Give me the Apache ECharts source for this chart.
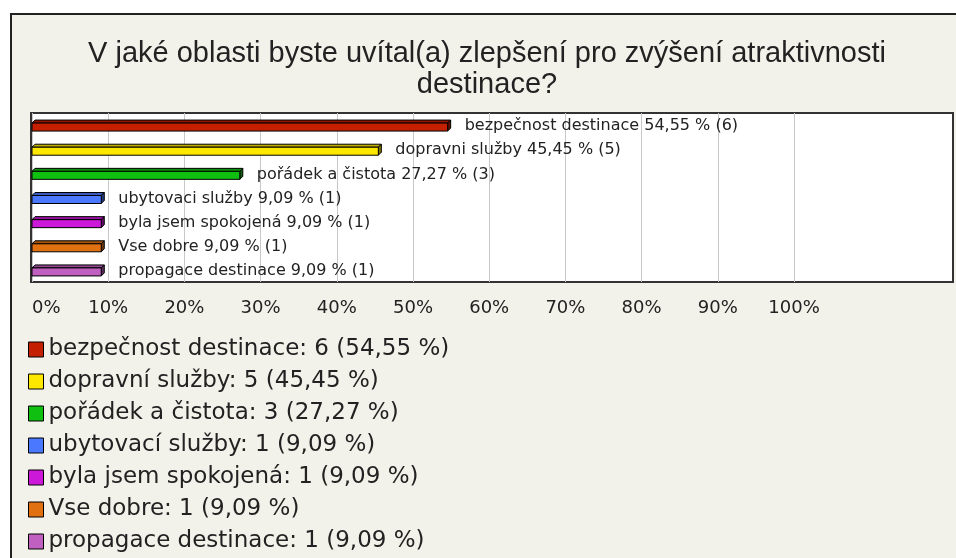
<!DOCTYPE html>
<html>
<head>
<meta charset="utf-8">
<script src="https://cdn.jsdelivr.net/npm/echarts@6/dist/echarts.min.js"></script>
<style>
  html, body { margin: 0; padding: 0; background: #fff; overflow: hidden; }
  #chart {
    position: absolute; left: 10px; top: 13px;
    width: 950px; height: 550px;
    border: 2px solid #222; background: #f3f2ea;
  }
</style>
</head>
<body>
<div id="chart"></div>
<script>
// data
var names = ['bezpečnost destinace', 'dopravní služby', 'pořádek a čistota', 'ubytovací služby',
             'byla jsem spokojená', 'Vse dobre', 'propagace destinace'];
var barNames = ['bezpečnost destinace', 'dopravni služby', 'pořádek a čistota', 'ubytovaci služby',
                'byla jsem spokojená', 'Vse dobre', 'propagace destinace'];
var counts = [6, 5, 3, 1, 1, 1, 1];
var percents = [54.55, 45.45, 27.27, 9.09, 9.09, 9.09, 9.09];
var colors = ['#c42000', '#ffe800', '#10c010', '#4a78ff', '#cc18d8', '#e07010', '#c060c0'];
var ticks = [0, 10, 20, 30, 40, 50, 60, 70, 80, 90, 100];

var FONT = 'DejaVu Sans';

function fmt(v) {
  return v.toFixed(2).replace('.', ',');
}

function darken(hex, k) {
  var n = parseInt(hex.slice(1), 16);
  var r = Math.round(((n >> 16) & 255) * k);
  var g = Math.round(((n >> 8) & 255) * k);
  var b = Math.round((n & 255) * k);
  return 'rgb(' + r + ',' + g + ',' + b + ')';
}

// 3d looking bar with a label behind it
function renderBar(params, api) {
  var i = api.value(1);
  var start = api.coord([0, i]);
  var end = api.coord([api.value(0), i]);
  var x0 = start[0], x1 = end[0], c = start[1];
  var h = 8, d = 3;
  var y0 = c - 2;
  var col = colors[i];
  return {
    type: 'group',
    children: [
      {
        type: 'polygon',
        shape: { points: [[x0, y0], [x0 + d, y0 - d], [x1 + d, y0 - d], [x1, y0]] },
        style: { fill: darken(col, 0.75), stroke: '#000', lineWidth: 1 }
      },
      {
        type: 'polygon',
        shape: { points: [[x1, y0], [x1 + d, y0 - d], [x1 + d, y0 - d + h], [x1, y0 + h]] },
        style: { fill: darken(col, 0.5), stroke: '#000', lineWidth: 1 }
      },
      {
        type: 'rect',
        shape: { x: x0, y: y0, width: x1 - x0, height: h },
        style: { fill: col, stroke: '#000', lineWidth: 1 }
      },
      {
        type: 'text',
        style: {
          text: barNames[i] + ' ' + fmt(percents[i]) + ' % (' + counts[i] + ')',
          x: x1 + 17, y: c + 1,
          verticalAlign: 'middle',
          font: '16px "' + FONT + '"',
          fill: '#222'
        }
      }
    ]
  };
}

var series = names.map(function (name, i) {
  return {
    name: name,
    type: 'custom',
    xAxisIndex: 1,
    yAxisIndex: 1,
    itemStyle: { color: colors[i] },
    renderItem: renderBar,
    encode: { x: 0, y: 1 },
    data: [[percents[i], i]]
  };
});

var chart = echarts.init(document.getElementById('chart'));
chart.setOption({
  animation: false,
  title: {
    text: 'V jaké oblasti byste uvítal(a) zlepšení pro zvýšení atraktivnosti\ndestinace?',
    left: 'center',
    top: 18,
    textStyle: {
      fontFamily: 'Liberation Sans',
      fontSize: 29,
      fontWeight: 'normal',
      lineHeight: 31,
      color: '#222'
    }
  },
  grid: [
    { left: 19, right: 9, top: 98, height: 169, show: true, backgroundColor: '#fff',
      borderColor: '#333', borderWidth: 2 },
    { left: 20, right: 168, top: 98, height: 169 }
  ],
  xAxis: [
    { gridIndex: 0, type: 'value', show: false },
    {
      gridIndex: 1, type: 'value', min: 0, max: 100, interval: 10,
      axisLine: { show: false },
      axisTick: { show: false },
      splitLine: { lineStyle: { color: '#c8c8c8', width: 1 } },
      axisLabel: {
        margin: 17,
        alignMinLabel: 'left',
        fontFamily: FONT, fontSize: 18, color: '#222',
        formatter: function (v) { return ticks.indexOf(v) >= 0 ? v + '%' : ''; }
      }
    }
  ],
  yAxis: [
    { gridIndex: 0, type: 'value', show: false },
    { gridIndex: 1, type: 'category', data: barNames, inverse: true, show: false }
  ],
  legend: {
    orient: 'vertical',
    left: 16,
    top: 323,
    padding: 0,
    itemGap: 9,
    itemWidth: 15,
    itemHeight: 15,
    icon: 'rect',
    selectedMode: false,
    itemStyle: { borderColor: '#000', borderWidth: 1 },
    data: names,
    textStyle: { fontFamily: FONT, fontSize: 23, lineHeight: 23, color: '#222' },
    formatter: function (name) {
      var i = names.indexOf(name);
      return name + ': ' + counts[i] + ' (' + fmt(percents[i]) + ' %)';
    }
  },
  series: series
});
</script>
</body>
</html>
